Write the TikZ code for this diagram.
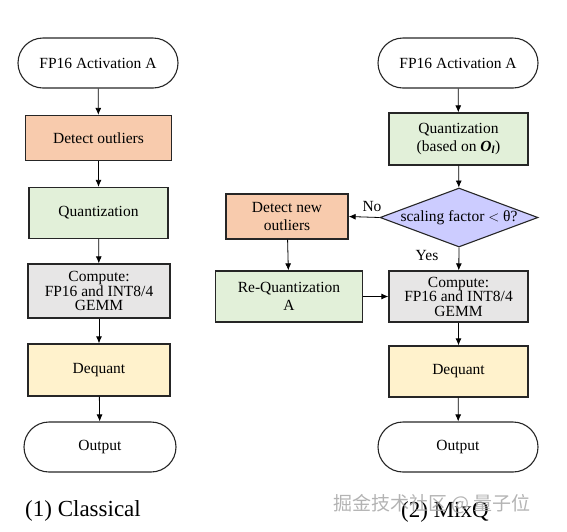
\documentclass[tikz,border=0pt]{standalone}
\usepackage{fontspec}
\setmainfont{Liberation Serif}
\newfontfamily\cjkfont{Noto Sans CJK SC}
\usetikzlibrary{shapes.geometric,arrows.meta}
\definecolor{salmon}{HTML}{F8CBAD}
\definecolor{lgreen}{HTML}{E2F0D9}
\definecolor{lgray}{HTML}{E7E6E6}
\definecolor{lyellow}{HTML}{FFF2CC}
\definecolor{lblue}{HTML}{CCCCFF}
\definecolor{edge}{HTML}{262626}
\tikzset{
  box/.style={draw=edge, line width=1.3pt, minimum width=#1, minimum height=51pt, inner sep=0pt, align=center, font=\fontsize{15.5}{15.5}\selectfont},
  box/.default=140pt,
  term/.style={draw=edge, line width=1.1pt, rounded corners=25pt, minimum width=160pt, minimum height=50pt, inner sep=0pt, font=\fontsize{15.5}{16}\selectfont},
  dec/.style={diamond, draw=edge, line width=1.1pt, fill=lblue, minimum width=158pt, minimum height=59pt, inner sep=0pt, font=\fontsize{15.5}{16}\selectfont},
  arr/.style={draw=black, line width=0.8pt, -{Latex[length=7pt,width=6pt]}},
  lbl/.style={font=\fontsize{15.5}{16}\selectfont, inner sep=0pt},
}
\begin{document}
\begin{tikzpicture}[x=1pt, y=-1pt]
\useasboundingbox (0,0) rectangle (567,531);
% left column
\node[term] (s1) at (98,63) {FP16 Activation A};
\node[box=146pt, minimum height=45pt, fill=salmon] (d1) at (98.5,138) {Detect outliers};
\node[box=139pt, fill=lgreen] (q1) at (98.5,213) {Quantization};
\node[box=142pt, minimum height=54pt, fill=lgray] (c1) at (99,291) {Compute:\\[-1pt]FP16 and INT8/4\\[-1pt]GEMM};
\node[box=142pt, minimum height=52pt, fill=lyellow] (dq1) at (99,370) {Dequant};
\node[term, minimum width=152pt] (o1) at (100,447) {Output};
\draw[arr] (s1) -- (d1);
\draw[arr] (d1) -- (q1);
\draw[arr] (q1) -- (c1);
\draw[arr] (c1) -- (dq1);
\draw[arr] (dq1) -- (o1);
\node[font=\fontsize{23}{24}\selectfont, anchor=west, inner sep=0pt] (cap1) at (25,511) {(1) Classical};
% right column
\node[term] (s2) at (458,63) {FP16 Activation A};
\node[box=139pt, minimum height=52pt, fill=lgreen] (q2) at (458.5,139) {Quantization\\[2pt](based on \textbf{\textit{O}}\textsubscript{\textbf{\textit{l}}})};
\node[dec] (dia) at (459,217.5) {\makebox[0pt]{scaling factor $<$ θ?}};
\node[box=122pt, minimum height=45pt, fill=salmon] (dn) at (287,216.5) {Detect new\\[2pt]outliers};
\node[box=147pt, fill=lgreen] (rq) at (289,296.5) {Re-Quantization\\[3pt]A};
\node[box=139pt, fill=lgray] (c2) at (458.5,296.5) {Compute:\\[-1pt]FP16 and INT8/4\\[-1pt]GEMM};
\node[box=139pt, fill=lyellow] (dq2) at (458.5,371.5) {Dequant};
\node[term] (o2) at (458,447) {Output};
\draw[arr] (s2) -- (q2);
\draw[arr] (q2) -- (dia);
\draw[arr] (dia.west) -- (dn.east);
\draw[arr] (dn) -- (rq);
\draw[arr] (rq) -- (c2);
\draw[arr] (dia.south) -- (c2);
\draw[arr] (c2) -- (dq2);
\draw[arr] (dq2) -- (o2);
\node[lbl] (no) at (372,206) {No};
\node[lbl] (yes) at (427,255) {Yes};
\node[font=\fontsize{23}{24}\selectfont, anchor=west, inner sep=0pt] (cap2) at (401,512) {(2) MixQ};
\node[font=\cjkfont\fontsize{19}{20}\selectfont, text=gray!70, opacity=0.85, anchor=west, inner sep=0pt] (wm) at (333,504) {掘金技术社区 @ 量子位};
\end{tikzpicture}
\end{document}
